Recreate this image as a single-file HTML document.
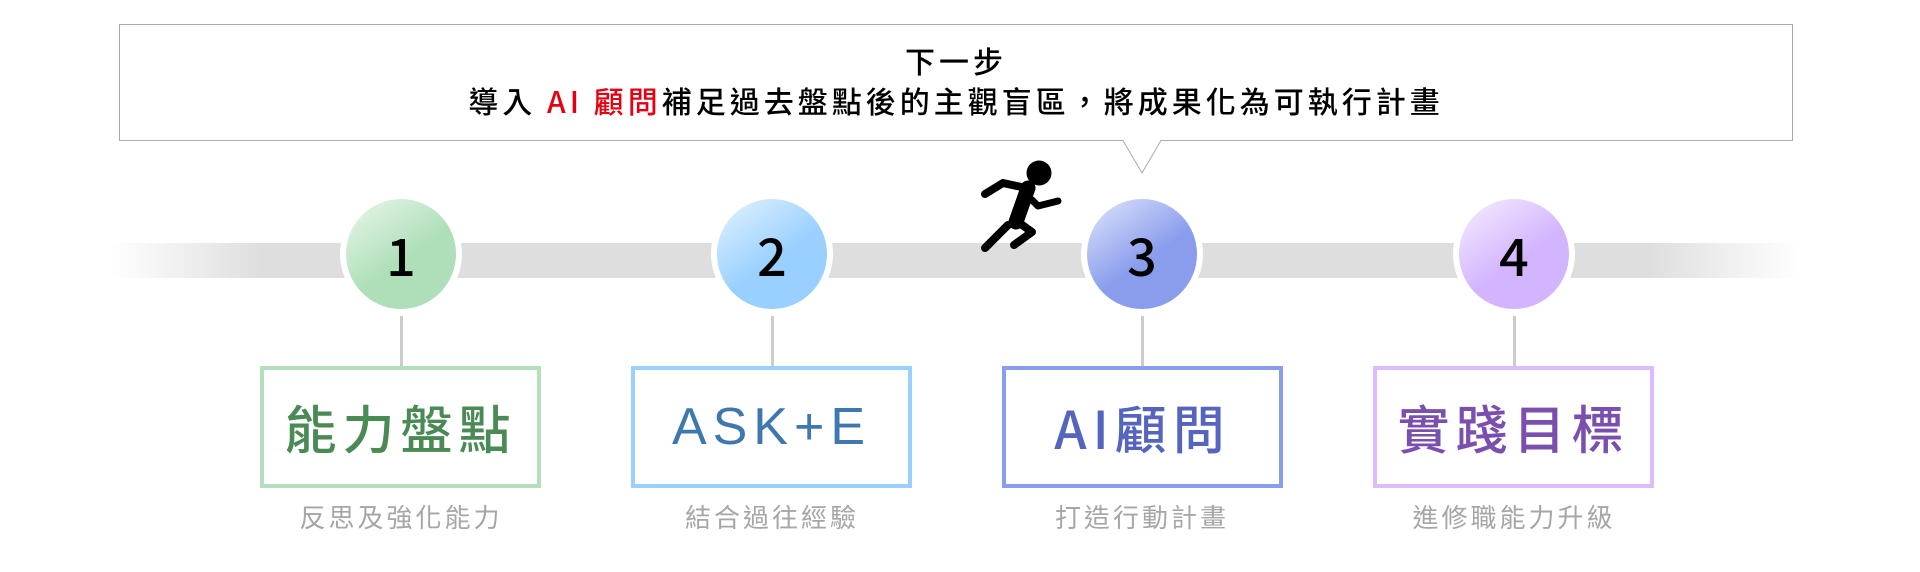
<!DOCTYPE html>
<html><head><meta charset="utf-8"><style>
body{margin:0;width:1920px;height:572px;background:#fff;position:relative;overflow:hidden;font-family:"Liberation Sans","Noto Sans CJK TC",sans-serif}
.abs{position:absolute}
.track{left:110px;top:243px;width:1690px;height:35px;background:linear-gradient(90deg,rgba(222,222,222,0) 0%,#dedede 9%,#dedede 91%,rgba(222,222,222,0) 100%)}
.circ{width:110px;height:110px;border-radius:50%;border:6px solid #fff;top:193px;text-align:center;line-height:110px;font-size:52px;color:#000;font-family:"Noto Sans CJK TC",sans-serif;font-weight:500}
.vl{width:3px;height:50px;background:#ccc;top:316px}
.box{width:273px;height:114px;top:366px;border:4px solid;background:#fff;text-align:center;line-height:114px;font-size:52px;letter-spacing:6px;font-family:"Noto Sans CJK TC",sans-serif;font-weight:500}
.sub{width:340px;top:498px;text-align:center;font-size:26px;color:#a6a6a6;letter-spacing:3px;font-family:"Noto Sans CJK TC",sans-serif}
</style></head><body>
<svg class="abs" style="left:0;top:0" width="1920" height="200">
<path d="M119.5 24.5 H1792.5 V140.5 H1161 L1142 173 L1123 140.5 H119.5 Z" fill="#fff" stroke="#aaa" stroke-width="1"/>
</svg>
<div class="abs" style="left:119px;top:40px;width:1674px;text-align:center;font-size:30px;line-height:40px;letter-spacing:4px;font-family:'Noto Sans CJK TC',sans-serif;font-weight:500;color:#000">下一步<br>導入 <span style="color:#e60012">AI 顧問</span>補足過去盤點後的主觀盲區，將成果化為可執行計畫</div>
<div class="abs track"></div>
<svg class="abs" style="left:970px;top:150px" width="110" height="115" viewBox="0 0 110 115">
<circle cx="69" cy="23" r="12.5" fill="#000"/>
<g stroke="#000" stroke-linecap="round" stroke-linejoin="round" fill="none">
<polyline points="15,44 33,33 56,38" stroke-width="8"/>
<polyline points="58,38 46,72" stroke-width="15"/>
<polyline points="62,50 68,56 88,51" stroke-width="7"/>
<polyline points="48,72 62,82 44,95" stroke-width="8"/>
<polyline points="38,75 15,98" stroke-width="8"/>
</g>
</svg>
<div class="abs circ" style="left:340px;background:linear-gradient(145deg,#eaf7ec 0%,#aedfb8 55%)">1</div>
<div class="abs circ" style="left:711px;background:linear-gradient(145deg,#e4f3ff 0%,#99d0ff 55%)">2</div>
<div class="abs circ" style="left:1081px;background:linear-gradient(145deg,#e0e6fb 0%,#8a9ded 55%)">3</div>
<div class="abs circ" style="left:1453px;background:linear-gradient(145deg,#f6efff 0%,#d3b5ff 55%)">4</div>
<div class="abs vl" style="left:400px"></div>
<div class="abs vl" style="left:771px"></div>
<div class="abs vl" style="left:1141px"></div>
<div class="abs vl" style="left:1513px"></div>
<div class="abs box" style="left:260px;border-color:#b2e0bc;color:#4a8a55">能力盤點</div>
<div class="abs box" style="left:631px;border-color:#99d0ff;color:#3e78ae;font-family:'Liberation Sans',sans-serif;font-weight:400">ASK+E</div>
<div class="abs box" style="left:1002px;border-color:#8a9ded;color:#5565bd">AI顧問</div>
<div class="abs box" style="left:1373px;border-color:#dcbcff;color:#7b4fae">實踐目標</div>
<div class="abs sub" style="left:231px">反思及強化能力</div>
<div class="abs sub" style="left:602px">結合過往經驗</div>
<div class="abs sub" style="left:972px">打造行動計畫</div>
<div class="abs sub" style="left:1344px">進修職能力升級</div>
</body></html>
